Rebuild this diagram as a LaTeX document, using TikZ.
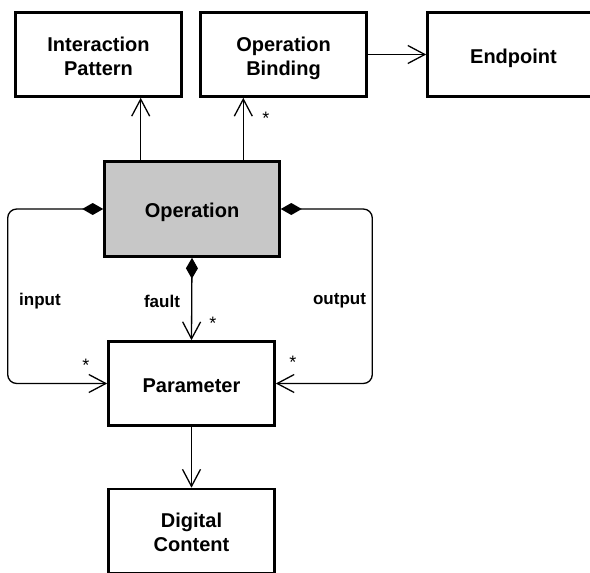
\documentclass[tikz,border=0pt]{standalone}
\usepackage{fontspec}
\setmainfont{Liberation Sans}
\usetikzlibrary{positioning, arrows.meta}

% box labels sit a little below the middle
\newcommand{\boxtext}[1]{\raisebox{-4pt}[\height][\depth]{\begin{tabular}{@{}c@{}}#1\end{tabular}}}

\begin{document}
\begin{tikzpicture}[
  x=1pt, y=-1pt,
  every node/.style={font=\bfseries\fontsize{20}{24}\selectfont},
  box/.style={draw, line width=2.6pt, minimum width=166pt, minimum height=84pt, align=center, inner sep=0pt},
  opbox/.style={box, fill=black!22, minimum width=175pt, minimum height=95pt},
  assoc/.style={line width=1.3pt, -{Straight Barb[length=17pt, width=18pt]}},
  comp/.style={assoc, {Diamond[length=21pt, width=12pt]}-{Straight Barb[length=17pt, width=18pt]}, rounded corners=9pt},
  lbl/.style={font=\bfseries\fontsize{17}{20}\selectfont},
  mult/.style={font=\fontsize{18}{20}\selectfont}
]
\useasboundingbox (0,0) rectangle (590,573);

% Top row
\node[box] (ipat) at (98.5, 54.5) {\boxtext{Interaction\\Pattern}};
\node[box] (obind) at (283.5, 54.5) {\boxtext{Operation\\Binding}};
\node[box, minimum width=172pt] (endp) at (513.5, 54.5) {\boxtext{Endpoint}};

% Middle
\node[opbox] (oper) at (192, 209) {\boxtext{Operation}};
\node[box] (param) at (191.5, 383.5) {\boxtext{Parameter}};

% Bottom
\node[box] (dcont) at (191.5, 531) {\boxtext{Digital\\Content}};

% Arrows up
\coordinate (up1) at ([xshift=37.5pt]oper.north west);
\coordinate (up2) at ([xshift=-37.5pt]oper.north east);
\draw[assoc] (up1) -- (up1 |- ipat.south);
\draw[assoc] (up2) -- (up2 |- obind.south);
\draw[assoc] (obind.east) -- (endp.west);

% Compositions
\draw[comp] (oper.west) -- ++(-95.5,0) |- (param.west);
\draw[comp] (oper.east) -- ++(91.5,0) |- (param.east);
\draw[comp] (oper.south) -- (param.north);
\draw[assoc] (param.south) -- (dcont.north);

% Labels
\node[lbl] at (40, 301.5) {input};
\node[lbl] at (162, 301.5) {fault};
\node[lbl] at (339.5, 301) {output};

% Multiplicities
\node[mult] at (266, 118) {*};
\node[mult] at (213, 323) {*};
\node[mult] at (86, 365) {*};
\node[mult] at (293, 362) {*};

\end{tikzpicture}
\end{document}
